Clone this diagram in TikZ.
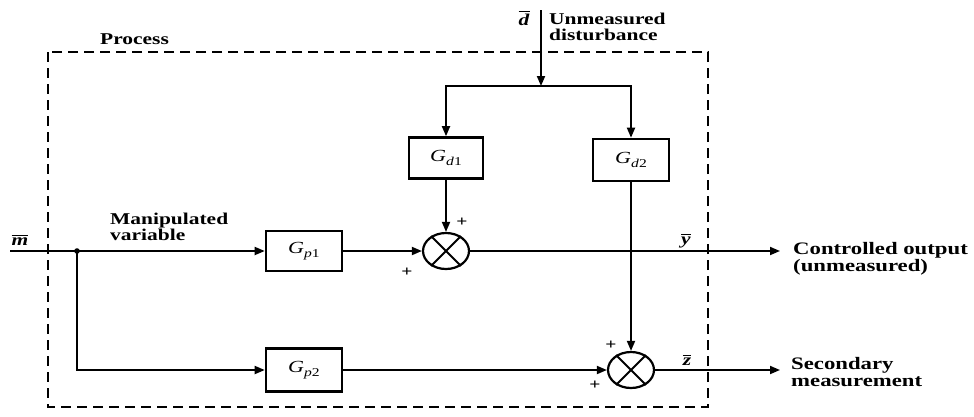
\documentclass[tikz,border=0pt]{standalone}
\usepackage{fontspec}
\setmainfont{Liberation Serif}[FakeStretch=1.3]
\usetikzlibrary{arrows.meta,shapes.geometric}
\newcommand{\Gsub}[2]{{\fontsize{17}{17}\selectfont\textit{G}\raisebox{-4pt}{\fontsize{12}{12}\selectfont\textit{#1}#2}}}
\newcommand{\ovl}[1]{{\setbox0\hbox{\textit{#1}}\rlap{\raisebox{\dimexpr\ht0+2pt\relax}{\rule{\wd0}{1pt}}}\box0}}
\tikzset{
  x=1pt, y=-1pt,
  sig/.style={line width=1.8pt, -{Triangle[length=10pt,width=8pt]}},
  blk/.style={draw, line width=2.6pt, minimum width=74pt, minimum height=41pt, inner sep=0pt},
  summ/.style={draw, ellipse, line width=2.2pt, minimum width=46pt, minimum height=36pt, inner sep=0pt},
  lbl/.style={font=\bfseries\fontsize{16.5}{16}\selectfont, inner sep=0pt, align=left},
  lblr/.style={font=\bfseries\fontsize{17.5}{17.5}\selectfont, inner sep=0pt, align=left},
  pls/.style={font=\bfseries\fontsize{15}{15}\selectfont, inner sep=0pt},
  procbox/.style={line width=2pt, dash pattern=on 10pt off 6pt}
}
\begin{document}
\begin{tikzpicture}
\useasboundingbox (0,0) rectangle (974,416);
% process boundary
\draw[procbox] (48,52) rectangle (708,407);
\node[lbl, anchor=north west] (proc) at (100,33) {Process};
% blocks
\node[blk, minimum width=76pt, minimum height=40pt] (gp1) at (304,251) {\Gsub{p}{1}};
\node[blk, minimum width=76pt, minimum height=43pt] (gp2) at (304,370) {\Gsub{p}{2}};
\node[blk] (gd1) at (446,158) {\Gsub{d}{1}};
\node[blk, minimum width=76pt, minimum height=42pt] (gd2) at (631,160) {\Gsub{d}{2}};
% summing junctions
\node[summ] (s1) at (446,251) {};
\draw[line width=2pt] (s1.45) -- (s1.225) (s1.135) -- (s1.315);
\node[summ] (s2) at (631,370) {};
\draw[line width=2pt] (s2.45) -- (s2.225) (s2.135) -- (s2.315);
% coordinates
\coordinate (mstart) at (10,251);
\coordinate (j) at (77,251);
\coordinate (dtop) at (541,10);
\coordinate (dj) at (541,86);
\coordinate (yend) at (780,251);
\coordinate (zend) at (780,370);
% connectors
\draw[sig] (mstart) -- (gp1.west);
\fill (j) circle (2.8pt);
\draw[sig] (j) |- (gp2.west);
\draw[sig] (gp1.east) -- (s1.west);
\draw[sig] (gp2.east) -- (s2.west);
\draw[sig] (s1.east) -- (yend);
\draw[sig] (s2.east) -- (zend);
\draw[sig] (dtop) -- (dj);
\draw[sig] (dj) -| (gd1.north);
\draw[sig] (dj) -| (gd2.north);
\draw[sig] (gd1.south) -- (s1.north);
\draw[sig] (gd2.south) -- (s2.north);
% labels
\node[lbl] (mlbl) at (20,240) {\ovl{m}};
\node[lbl] (dlbl) at (524,18) {\ovl{d}};
\node[lbl] (ylbl) at (686,241) {\ovl{y}};
\node[lbl] (zlbl) at (687,360) {\ovl{z}};
\node[lbl, anchor=north west] (dist) at (549,13) {Unmeasured\\disturbance};
\node[lbl, anchor=north west] (manip) at (110,213) {Manipulated\\variable};
\node[lblr, anchor=north west] (cout) at (793,242) {Controlled output\\(unmeasured)};
\node[lblr, anchor=north west] (sec) at (791,357) {Secondary\\measurement};
\node[pls] (p1) at (462,222) {+};
\node[pls] (p2) at (407,272) {+};
\node[pls] (p3) at (611,345) {+};
\node[pls] (p4) at (595,385) {+};
\end{tikzpicture}
\end{document}
